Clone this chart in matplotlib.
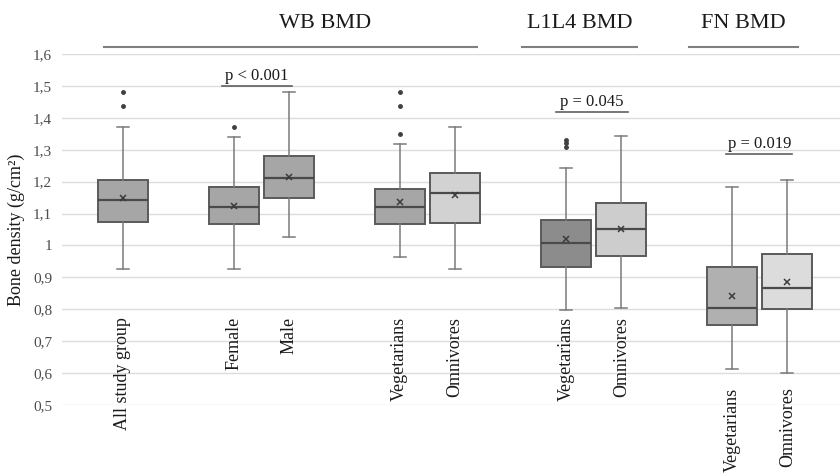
import matplotlib
matplotlib.use("Agg")
import matplotlib.pyplot as plt

plt.rcParams['font.family'] = ['Liberation Serif', 'DejaVu Serif']

# category labels and slot positions (gaps between groups)
labels = ['All study group', 'Female', 'Male', 'Vegetarians', 'Omnivores',
          'Vegetarians', 'Omnivores', 'Vegetarians', 'Omnivores']
positions = [0, 2, 3, 5, 6, 8, 9, 11, 12]

# box statistics
whislo = [0.926, 0.925, 1.026, 0.965, 0.925, 0.797, 0.804, 0.613, 0.599]
q1     = [1.073, 1.067, 1.148, 1.068, 1.071, 0.933, 0.967, 0.750, 0.800]
med    = [1.142, 1.121, 1.210, 1.121, 1.165, 1.007, 1.050, 0.803, 0.866]
q3     = [1.205, 1.183, 1.280, 1.178, 1.227, 1.080, 1.134, 0.933, 0.972]
whishi = [1.371, 1.339, 1.482, 1.317, 1.370, 1.242, 1.343, 1.184, 1.205]
means  = [1.149, 1.125, 1.215, 1.135, 1.157, 1.021, 1.053, 0.841, 0.886]
fliers = [[1.48, 1.436], [1.370], [], [1.48, 1.436, 1.350], [],
          [1.31, 1.32, 1.33], [], [], []]

fills = ['#a6a6a6', '#a6a6a6', '#a6a6a6', '#a6a6a6', '#d2d2d2',
         '#8c8c8c', '#cdcdcd', '#b0b0b0', '#dcdcdc']

yticks = [0.5, 0.6, 0.7, 0.8, 0.9, 1.0, 1.1, 1.2, 1.3, 1.4, 1.5, 1.6]
ytick_labels = ['0,5', '0,6', '0,7', '0,8', '0,9', '1', '1,1', '1,2', '1,3', '1,4', '1,5', '1,6']

groups = ['WB BMD', 'L1L4 BMD', 'FN BMD']
p_texts = ['p < 0.001', 'p = 0.045', 'p = 0.019']

fig = plt.figure(figsize=(8.4, 4.73), dpi=100)
ax = fig.add_axes([0.0738, 0.1438, 0.9262, 0.742])

stats = []
for i in range(len(labels)):
    stats.append(dict(whislo=whislo[i], q1=q1[i], med=med[i], q3=q3[i],
                      whishi=whishi[i], mean=means[i], fliers=fliers[i]))

bp = ax.bxp(stats, positions=positions, widths=0.9, patch_artist=True,
            showmeans=True, meanline=False,
            boxprops=dict(edgecolor='#5a5a5a', linewidth=1.4),
            medianprops=dict(color='#4a4a4a', linewidth=1.6),
            whiskerprops=dict(color='#7a7a7a', linewidth=1.1),
            capprops=dict(color='#7a7a7a', linewidth=1.1),
            capwidths=0.22,
            meanprops=dict(marker='x', markeredgecolor='#3a3a3a', markersize=5, markeredgewidth=1.1),
            flierprops=dict(marker='o', markerfacecolor='#404040', markeredgecolor='#404040', markersize=2.5))
for patch, c in zip(bp['boxes'], fills):
    patch.set_facecolor(c)

ax.set_xlim(-1.1, 12.95)
ax.set_ylim(0.5, 1.6)
ax.set_yticks(yticks)
ax.set_yticklabels(ytick_labels, fontsize=11, color='#4d4d4d')
ax.set_xticks([])
ax.tick_params(axis='y', length=0, pad=7)
ax.grid(axis='y', color='#dcdcdc', linewidth=1)
ax.set_axisbelow(True)
for s in ax.spines.values():
    s.set_visible(False)
ax.set_ylabel('Bone density (g/cm²)', fontsize=13, color='#1a1a1a', labelpad=6)

# category labels (rotated, inside plot area)
for i, (lab, x) in enumerate(zip(labels, positions)):
    ytop = 0.555 if i >= 7 else 0.775
    ax.text(x, ytop, lab, rotation=90, ha='center', va='top', fontsize=13,
            color='#1a1a1a', clip_on=False)

# group headers with lines
spans = [(-0.34, 6.39), (7.2, 9.28), (10.23, 12.2)]
for name, (a, b) in zip(groups, spans):
    ax.plot([a, b], [1.622, 1.622], color='#808080', lw=1.5, clip_on=False)
ax.text(3.65, 1.697, groups[0], ha='center', va='center', fontsize=16, color='#1a1a1a')
ax.text(8.25, 1.697, groups[1], ha='center', va='center', fontsize=16, color='#1a1a1a')
ax.text(11.2, 1.697, groups[2], ha='center', va='center', fontsize=16, color='#1a1a1a')

# p-value annotations
pspans = [(1.79, 3.05, 1.50), (7.82, 9.13, 1.418), (10.9, 12.09, 1.287)]
for txt, (a, b, y) in zip(p_texts, pspans):
    ax.plot([a, b], [y, y], color='#606060', lw=1.2)
    ax.text((a + b) / 2, y + 0.006, txt, ha='center', va='bottom', fontsize=12, color='#1a1a1a')

fig.savefig('out.png', dpi=100)
